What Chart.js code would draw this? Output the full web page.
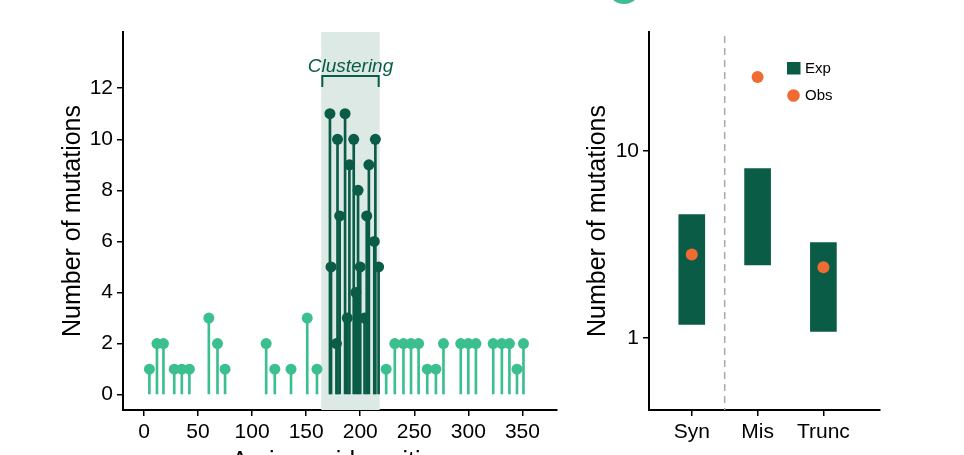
<!DOCTYPE html>
<html>
<head>
<meta charset="utf-8">
<script src="https://cdn.jsdelivr.net/npm/chart.js@4"></script>
<style>
  html, body { margin: 0; padding: 0; background: #fff; overflow: hidden; width: 964px; height: 455px; }
  .panel { position: absolute; top: 0; }
  #dot { position: absolute; left: 607px; top: -30px; width: 34px; height: 34px; border-radius: 50%; background: #3bbf8e; }
</style>
</head>
<body>
<div id="dot"></div>
<div class="panel" style="left:0"><canvas id="lollipop" width="600" height="480"></canvas></div>
<div class="panel" style="left:540px"><canvas id="burden" width="400" height="480"></canvas></div>
<script>
// left panel: mutations by amino acid position
const otherPos   = [5, 12, 18, 28, 35, 42, 60, 68, 75, 113, 121, 136, 151, 160, 224, 232, 240, 247, 254, 262, 270, 277, 293, 300, 307, 323, 331, 338, 345, 351];
const otherCount = [1, 2, 2, 1, 1, 1, 3, 2, 1, 2, 1, 1, 3, 1, 1, 2, 2, 2, 2, 1, 1, 2, 2, 2, 2, 2, 2, 2, 1, 2];
const clusterPos   = [172, 186, 179, 194, 214, 190, 208, 198, 181, 206, 213, 173, 200, 217, 196, 188, 204, 178];
const clusterCount = [11, 11, 10, 10, 10, 9, 9, 8, 7, 7, 6, 5, 5, 5, 4, 3, 3, 2];
const clusterRange = [164, 218];
const positionTicks = [0, 50, 100, 150, 200, 250, 300, 350];
const countTicks = [0, 2, 4, 6, 8, 10, 12];

// right panel: expected vs observed
const categories = ['Syn', 'Mis', 'Trunc'];
const expLow  = [1.18, 2.46, 1.08];
const expHigh = [4.57, 8.07, 3.24];
const observed = [2.79, 25.0, 2.39];
const logTicks = [1, 10];

const LIGHT = '#3bbf8e';
const DARK = '#0a5c47';
const SHADE = '#dce9e4';
const ORANGE = '#f06b32';
const FONT = "'Liberation Sans', Arial, Helvetica, sans-serif";

Chart.defaults.color = '#000';
Chart.defaults.font.family = FONT;

const pts = (xs, ys) => xs.map((x, i) => ({ x, y: ys[i] }));
const fixTicks = (values) => (s) => { s.ticks = values.map((v) => ({ value: v })); };

const axisBase = {
  border: { display: true, color: '#000', width: 2 },
  grid: { display: true, offset: false, drawOnChartArea: false, drawTicks: true, tickLength: 6, color: '#000', lineWidth: 1.5 },
  ticks: { font: { size: 21 }, color: '#000', padding: 4, maxRotation: 0, autoSkip: false }
};

const shadePlugin = {
  id: 'shade',
  beforeDatasetsDraw(chart) {
    const { ctx, chartArea, scales: { x } } = chart;
    const x0 = x.getPixelForValue(clusterRange[0]);
    const x1 = x.getPixelForValue(clusterRange[1]);
    ctx.save();
    ctx.fillStyle = SHADE;
    ctx.fillRect(x0, chartArea.top, x1 - x0, chartArea.bottom - chartArea.top);
    ctx.restore();
  },
  afterDatasetsDraw(chart) {
    const { ctx, scales: { x } } = chart;
    const x0 = x.getPixelForValue(clusterRange[0]);
    const x1 = x.getPixelForValue(clusterRange[1]);
    const yTop = 76, yEnd = 87;
    ctx.save();
    ctx.strokeStyle = DARK;
    ctx.lineWidth = 2;
    ctx.beginPath();
    ctx.moveTo(x0 + 1, yEnd);
    ctx.lineTo(x0 + 1, yTop);
    ctx.lineTo(x1 - 1, yTop);
    ctx.lineTo(x1 - 1, yEnd);
    ctx.stroke();
    ctx.fillStyle = DARK;
    ctx.font = 'italic 19px ' + FONT;
    ctx.textAlign = 'center';
    ctx.textBaseline = 'alphabetic';
    ctx.fillText('Clustering', (x0 + x1) / 2, yTop - 4);
    ctx.restore();
  }
};

new Chart(document.getElementById('lollipop'), {
  type: 'scatter',
  data: {
    datasets: [
      { type: 'scatter', data: pts(clusterPos, clusterCount), backgroundColor: DARK, pointRadius: 5.5, pointBorderWidth: 0, order: 0 },
      { type: 'scatter', data: pts(otherPos, otherCount), backgroundColor: LIGHT, pointRadius: 5.5, pointBorderWidth: 0, order: 1 },
      { type: 'bar', data: pts(clusterPos, clusterCount), backgroundColor: DARK, barThickness: 2, grouped: false, order: 2 },
      { type: 'bar', data: pts(otherPos, otherCount), backgroundColor: LIGHT, barThickness: 2, grouped: false, order: 3 }
    ]
  },
  options: {
    responsive: false,
    animation: false,
    events: [],
    layout: { padding: { left: 54, top: 32, right: 43, bottom: 0 } },
    plugins: { legend: { display: false }, tooltip: { enabled: false } },
    scales: {
      x: {
        ...axisBase,
        type: 'linear', offset: false, min: -19.4, max: 382,
        afterBuildTicks: fixTicks(positionTicks),
        title: { display: true, text: 'Amino acid position', font: { size: 25 }, color: '#000', padding: { top: 4, bottom: 3 } },
        afterFit: (s) => { s.height = 70; }
      },
      y: {
        ...axisBase,
        type: 'linear', min: -0.6, max: 14.2,
        afterBuildTicks: fixTicks(countTicks),
        title: { display: true, text: 'Number of mutations', font: { size: 25 }, color: '#000', padding: { top: 4, bottom: 4 } },
        afterFit: (s) => { s.width = 69; }
      }
    }
  },
  plugins: [shadePlugin]
});

const extrasPlugin = {
  id: 'extras',
  beforeDatasetsDraw(chart) {
    const { ctx, chartArea, scales: { x } } = chart;
    const xp = x.getPixelForValue(0.5);
    ctx.save();
    ctx.strokeStyle = '#a8a8a8';
    ctx.lineWidth = 1.5;
    ctx.setLineDash([7, 5]);
    ctx.beginPath();
    ctx.moveTo(xp, chartArea.top + 4);
    ctx.lineTo(xp, chartArea.bottom);
    ctx.stroke();
    ctx.restore();
  },
  afterDraw(chart) {
    const { ctx, chartArea } = chart;
    const lx = chartArea.right - 93;
    const ly = chartArea.top + 30;
    ctx.save();
    ctx.fillStyle = DARK;
    ctx.fillRect(lx, ly, 13.5, 12.5);
    ctx.fillStyle = ORANGE;
    ctx.beginPath();
    ctx.arc(lx + 6.5, ly + 33.5, 6.3, 0, Math.PI * 2);
    ctx.fill();
    ctx.fillStyle = '#000';
    ctx.font = '15px ' + FONT;
    ctx.textBaseline = 'middle';
    ctx.fillText('Exp', lx + 18, ly + 6.5);
    ctx.fillText('Obs', lx + 18, ly + 33.5);
    ctx.restore();
  }
};

new Chart(document.getElementById('burden'), {
  type: 'bar',
  data: {
    datasets: [
      { type: 'scatter', label: 'Obs', data: pts([0, 1, 2], observed), backgroundColor: ORANGE, pointRadius: 6, pointBorderWidth: 0, order: 0 },
      { type: 'bar', label: 'Exp', data: categories.map((c, i) => ({ x: i, y: [expLow[i], expHigh[i]] })), backgroundColor: DARK, barThickness: 26, grouped: false, order: 1 }
    ]
  },
  options: {
    responsive: false,
    animation: false,
    events: [],
    layout: { padding: { left: 39, top: 32, right: 60, bottom: 0 } },
    plugins: { legend: { display: false }, tooltip: { enabled: false } },
    scales: {
      x: {
        ...axisBase,
        type: 'linear', offset: false, min: -0.65, max: 2.86,
        ticks: { ...axisBase.ticks, callback: (v) => categories[v] ?? '' },
        afterBuildTicks: fixTicks([0, 1, 2]),
        afterFit: (s) => { s.height = 70; }
      },
      y: {
        ...axisBase,
        type: 'logarithmic', min: 0.41, max: 43.5,
        ticks: { ...axisBase.ticks, callback: (v) => String(v) },
        afterBuildTicks: fixTicks(logTicks),
        title: { display: true, text: 'Number of mutations', font: { size: 25 }, color: '#000', padding: { top: 4, bottom: 4 } },
        afterFit: (s) => { s.width = 70; }
      }
    }
  },
  plugins: [extrasPlugin]
});
</script>
</body>
</html>
